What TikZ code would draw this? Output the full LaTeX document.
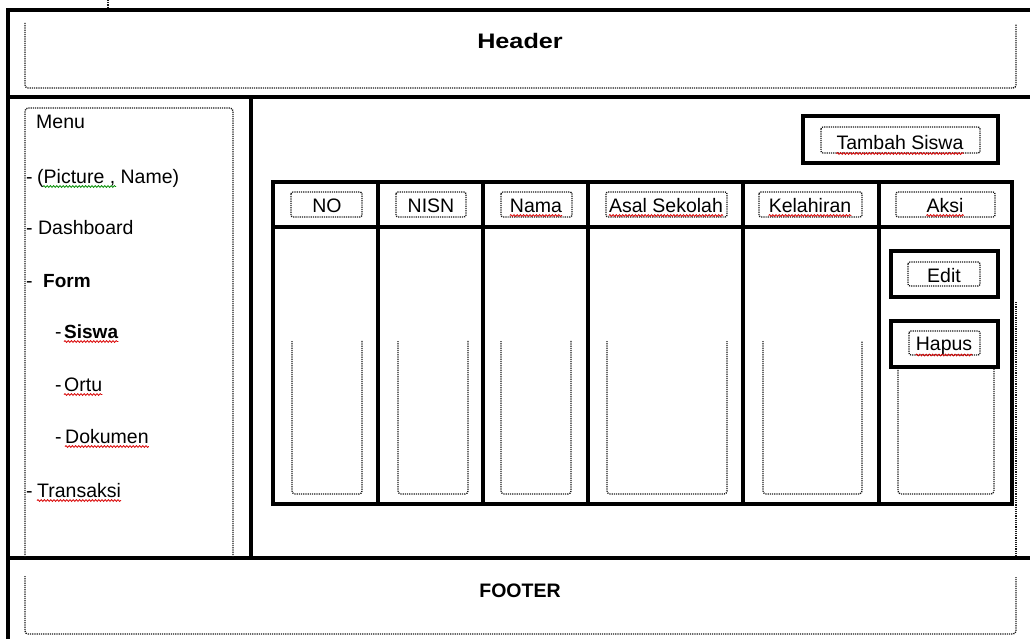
\documentclass[tikz,border=0pt]{standalone}
\usepackage{fontspec}
\setmainfont{Liberation Sans}
\usetikzlibrary{decorations.pathmorphing}
\begin{document}
\begin{tikzpicture}[x=1pt,y=-1pt,
  frame/.style={line width=3.6pt},
  tline/.style={line width=3.2pt},
  bline/.style={line width=4.6pt},
  btn/.style={line width=3.8pt},
  dots/.style={line width=1.3pt, dash pattern=on 1.2pt off 1.0pt, black!90, rounded corners=3pt},
  txt/.style={inner sep=0pt, font=\fontsize{19.5}{22}\selectfont, anchor=base},
  mtxt/.style={txt, anchor=base west},
  btxt/.style={inner sep=0pt, font=\fontsize{19.5}{22}\selectfont\bfseries, anchor=base},
  sq/.style={red!85!black, line width=0.8pt, decorate, decoration={snake, amplitude=0.9pt, segment length=3.2pt}},
  gsq/.style={sq, green!55!black}]
\useasboundingbox (0,0) rectangle (1030,639);
\fill[white] (0,0) rectangle (1030,639);

% stray dotted fragment at the top
\draw[dots] (108,0) -- (108,7);

% outer frame
\draw[frame] (1030,10) -- (8,10) -- (8,639);
\draw[frame] (8,97) -- (1030,97);
\draw[frame] (8,558) -- (1030,558);
\draw[frame] (251,97) -- (251,558);

% dotted text boxes of the layout
\draw[dots] (25,23) -- (25,88) -- (1016,88) -- (1016,24);
\draw[dots] (25,557) -- (25,108) -- (233,108) -- (233,557);
\draw[dots] (25,576) -- (25,634) -- (1016,634) -- (1016,577);
\draw[dots] (1016,302) -- (1016,556);

% header and footer
\node[btxt, font=\fontsize{21}{24}\selectfont\bfseries] (header) at (520,49) {\scalebox{1.2}[1]{Header}};
\node[btxt] (footer) at (520,597) {FOOTER};

% menu
\node[mtxt] (menu) at (36,129) {Menu};
\node[mtxt] (m1d) at (26,183) {-};
\node[mtxt] (m1) at (37,183) {(Picture , Name)};
\draw[gsq] ([xshift=6pt,yshift=-3.5pt]m1.base west) -- ([xshift=79pt,yshift=-3.5pt]m1.base west);
\node[mtxt] (m2) at (26,234) {- Dashboard};
\node[mtxt] (m3d) at (26,287) {-};
\node[mtxt, font=\fontsize{19}{22}\selectfont\bfseries] (m3) at (43,287) {Form};
\node[mtxt] (m4d) at (55,338) {-};
\node[mtxt, font=\fontsize{19}{22}\selectfont\bfseries] (m4) at (64,338) {Siswa};
\draw[sq] ([yshift=-3.5pt]m4.base west) -- ([yshift=-3.5pt]m4.base east);
\node[mtxt] (m5d) at (55,391) {-};
\node[mtxt] (m5) at (64,391) {Ortu};
\draw[sq] ([yshift=-3.5pt]m5.base west) -- ([yshift=-3.5pt]m5.base east);
\node[mtxt] (m6d) at (55,443) {-};
\node[mtxt] (m6) at (65,443) {Dokumen};
\draw[sq] ([yshift=-3.5pt]m6.base west) -- ([yshift=-3.5pt]m6.base east);
\node[mtxt] (m7d) at (26,497) {-};
\node[mtxt] (m7) at (37,497) {Transaksi};
\draw[sq] ([yshift=-3.5pt]m7.base west) -- ([yshift=-3.5pt]m7.base east);

% Tambah Siswa button
\draw[btn] (803,116) rectangle (998,163);
\draw[dots, rounded corners=2pt] (821,127) rectangle (980,153);
\node[txt] (tambah) at (900,150) {Tambah Siswa};
\draw[sq] ([yshift=-3.5pt]tambah.base west) -- ([yshift=-3.5pt]tambah.base east);

% table
\draw[tline] (273,182) rectangle (1012,504);
\draw[tline] (273,227) -- (1012,227);
\foreach \cx in {378,483,588,743,879} {
  \draw[tline] (\cx,182) -- (\cx,227);
  \draw[bline] (\cx,227) -- (\cx,504);
}

% header cells
\draw[dots, rounded corners=2pt] (291,192) rectangle (362,217);
\draw[dots, rounded corners=2pt] (396,192) rectangle (466,217);
\draw[dots, rounded corners=2pt] (501,192) rectangle (572,217);
\draw[dots, rounded corners=2pt] (606,192) rectangle (727,217);
\draw[dots, rounded corners=2pt] (759,192) rectangle (862,217);
\draw[dots, rounded corners=2pt] (896,192) rectangle (995,217);
\node[txt] (hno) at (327,212) {NO};
\node[txt] (hnisn) at (431,212) {NISN};
\node[txt] (hnama) at (536,212) {Nama};
\node[txt] (hasal) at (666,212) {Asal Sekolah};
\node[txt] (hkel) at (810,212) {Kelahiran};
\node[txt] (haksi) at (945,212) {Aksi};
\foreach \n in {hnama,hasal,hkel,haksi}
  \draw[sq] ([yshift=-3.5pt]\n.base west) -- ([yshift=-3.5pt]\n.base east);

% body cells
\draw[dots] (292,341) -- (292,494) -- (362,494) -- (362,340);
\draw[dots] (398,341) -- (398,494) -- (468,494) -- (468,340);
\draw[dots] (501,341) -- (501,494) -- (571,494) -- (571,340);
\draw[dots] (607,341) -- (607,494) -- (727,494) -- (727,341);
\draw[dots] (763,341) -- (763,494) -- (862,494) -- (862,341);
\draw[dots] (898,368) -- (898,494) -- (994,494) -- (994,368);

% Edit / Hapus buttons
\draw[btn] (891,251) rectangle (998,297);
\draw[dots, rounded corners=2pt] (908,262) rectangle (980,286);
\node[txt] (edit) at (944,282) {Edit};
\draw[btn] (891,321) rectangle (998,367);
\draw[dots, rounded corners=2pt] (909,331) rectangle (980,355);
\node[txt] (hapus) at (944,350) {Hapus};
\draw[sq] ([yshift=-5pt]hapus.base west) -- ([yshift=-5pt]hapus.base east);
\end{tikzpicture}
\end{document}
